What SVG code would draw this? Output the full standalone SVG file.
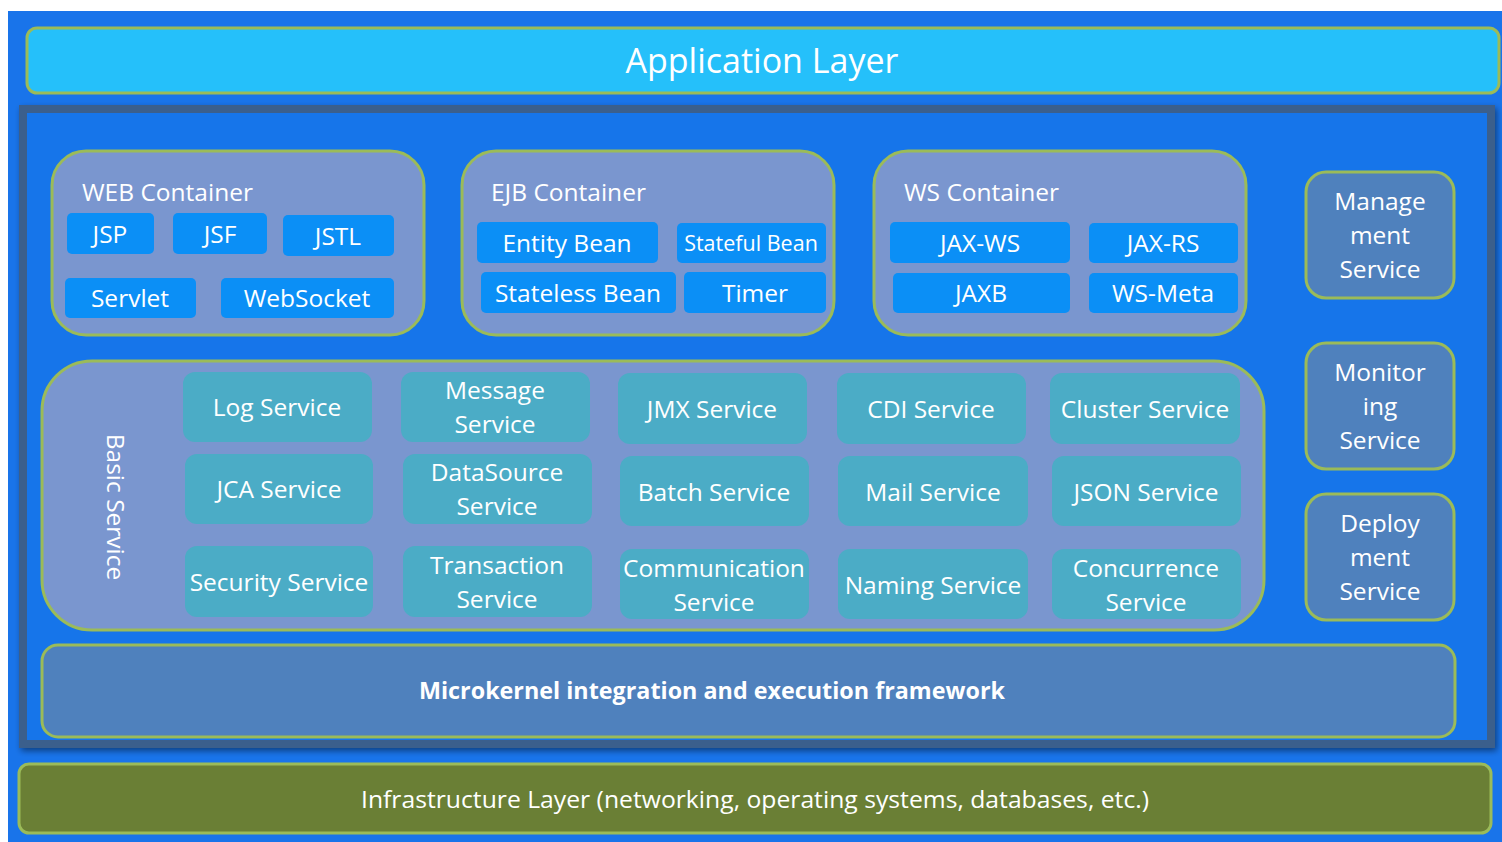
<svg xmlns="http://www.w3.org/2000/svg" width="1502" height="842" viewBox="0 0 1502 842">
<defs>
<filter id="sh" x="-5%" y="-5%" width="110%" height="110%">
<feGaussianBlur in="SourceAlpha" stdDeviation="3"/>
<feOffset dx="2" dy="3" result="b"/>
<feComponentTransfer><feFuncA type="linear" slope="0.45"/></feComponentTransfer>
<feMerge><feMergeNode/><feMergeNode in="SourceGraphic"/></feMerge>
</filter>
<style>
text{font-family:"Open Sans","Noto Sans","DejaVu Sans",sans-serif;fill:#fff;text-anchor:middle}
.box{stroke:#9BBB59;stroke-width:3}
.cont{fill:#7A96CF;stroke:#9BBB59;stroke-width:3}
.item{fill:#0B8FF6}
.svc{fill:#4BACC6}
.side{fill:#4F81BD;stroke:#9BBB59;stroke-width:3}
.t22{font-size:24.5px}
.t23{font-size:24.5px}
.lbl{font-size:24.5px;text-anchor:start}
</style>
</defs>
<rect x="0" y="0" width="1502" height="842" fill="#ffffff"/>
<rect x="8" y="11" width="1494" height="831" fill="#1974EA"/>

<g id="application-layer">
<rect class="box" x="27" y="28" width="1472" height="65" rx="10" fill="#25C0FA"/>
<text x="762" y="73" font-size="34">Application Layer</text>
</g>

<g id="main-frame">
<rect x="23" y="109" width="1468" height="635" fill="#1974EA" stroke="#3B5F8C" stroke-width="8" filter="url(#sh)"/>
</g>

<g id="web-container">
<rect class="cont" x="52" y="151" width="372" height="184" rx="34"/>
<text class="lbl" x="82" y="201">WEB Container</text>
<rect class="item" x="67" y="213" width="87" height="41" rx="5"/>
<text class="t23" x="110" y="243">JSP</text>
<rect class="item" x="173" y="213" width="94" height="41" rx="5"/>
<text class="t23" x="220" y="243">JSF</text>
<rect class="item" x="283" y="215" width="111" height="41" rx="5"/>
<text class="t23" x="338" y="245">JSTL</text>
<rect class="item" x="65" y="278" width="131" height="40" rx="5"/>
<text class="t23" x="130" y="307">Servlet</text>
<rect class="item" x="221" y="278" width="173" height="40" rx="5"/>
<text class="t23" x="307" y="307">WebSocket</text>
</g>

<g id="ejb-container">
<rect class="cont" x="462" y="151" width="372" height="184" rx="34"/>
<text class="lbl" x="491" y="201">EJB Container</text>
<rect class="item" x="477" y="222" width="181" height="41" rx="5"/>
<text class="t23" x="567" y="252">Entity Bean</text>
<rect class="item" x="677" y="223" width="149" height="40" rx="5"/>
<text x="751" y="251" font-size="21.5">Stateful Bean</text>
<rect class="item" x="481" y="272" width="195" height="41" rx="5"/>
<text class="t23" x="578" y="302">Stateless Bean</text>
<rect class="item" x="684" y="272" width="142" height="41" rx="5"/>
<text class="t23" x="755" y="302">Timer</text>
</g>

<g id="ws-container">
<rect class="cont" x="874" y="151" width="372" height="184" rx="34"/>
<text class="lbl" x="904" y="201">WS Container</text>
<rect class="item" x="890" y="222" width="180" height="41" rx="5"/>
<text class="t23" x="980" y="252">JAX-WS</text>
<rect class="item" x="1089" y="223" width="149" height="40" rx="5"/>
<text class="t23" x="1163" y="252">JAX-RS</text>
<rect class="item" x="893" y="273" width="177" height="40" rx="5"/>
<text class="t23" x="981" y="302">JAXB</text>
<rect class="item" x="1089" y="273" width="149" height="40" rx="5"/>
<text class="t23" x="1163" y="302">WS-Meta</text>
</g>

<g id="management-service">
<rect class="side" x="1306" y="172" width="148" height="126" rx="20"/>
<text class="t23" x="1380" y="210">Manage</text>
<text class="t23" x="1380" y="244">ment</text>
<text class="t23" x="1380" y="278">Service</text>
</g>
<g id="monitoring-service">
<rect class="side" x="1306" y="343" width="148" height="126" rx="20"/>
<text class="t23" x="1380" y="381">Monitor</text>
<text class="t23" x="1380" y="415">ing</text>
<text class="t23" x="1380" y="449">Service</text>
</g>
<g id="deployment-service">
<rect class="side" x="1306" y="494" width="148" height="126" rx="20"/>
<text class="t23" x="1380" y="532">Deploy</text>
<text class="t23" x="1380" y="566">ment</text>
<text class="t23" x="1380" y="600">Service</text>
</g>

<g id="basic-service">
<rect class="cont" x="42" y="361" width="1222" height="269" rx="50"/>
<text class="t22" transform="translate(107,507) rotate(90)">Basic Service</text>
</g>

<g id="services">
<rect class="svc" x="183" y="372" width="189" height="70" rx="12"/>
<text class="t23" x="277" y="416">Log Service</text>
<rect class="svc" x="401" y="372" width="189" height="70" rx="12"/>
<text class="t23" x="495" y="399">Message</text>
<text class="t23" x="495" y="433">Service</text>
<rect class="svc" x="618" y="373" width="189" height="71" rx="12"/>
<text class="t23" x="712" y="418">JMX Service</text>
<rect class="svc" x="837" y="373" width="189" height="71" rx="12"/>
<text class="t23" x="931" y="418">CDI Service</text>
<rect class="svc" x="1050" y="373" width="190" height="71" rx="12"/>
<text class="t23" x="1145" y="418">Cluster Service</text>

<rect class="svc" x="185" y="454" width="188" height="70" rx="12"/>
<text class="t23" x="279" y="498">JCA Service</text>
<rect class="svc" x="403" y="454" width="189" height="70" rx="12"/>
<text class="t23" x="497" y="481">DataSource</text>
<text class="t23" x="497" y="515">Service</text>
<rect class="svc" x="620" y="456" width="189" height="70" rx="12"/>
<text class="t23" x="714" y="501">Batch Service</text>
<rect class="svc" x="838" y="456" width="190" height="70" rx="12"/>
<text class="t23" x="933" y="501">Mail Service</text>
<rect class="svc" x="1052" y="456" width="189" height="70" rx="12"/>
<text class="t23" x="1146" y="501">JSON Service</text>

<rect class="svc" x="185" y="546" width="188" height="71" rx="12"/>
<text class="t23" x="279" y="591">Security Service</text>
<rect class="svc" x="403" y="546" width="189" height="71" rx="12"/>
<text class="t23" x="497" y="574">Transaction</text>
<text class="t23" x="497" y="608">Service</text>
<rect class="svc" x="620" y="549" width="189" height="70" rx="12"/>
<text class="t23" x="714" y="577">Communication</text>
<text class="t23" x="714" y="611">Service</text>
<rect class="svc" x="838" y="549" width="190" height="70" rx="12"/>
<text class="t23" x="933" y="594">Naming Service</text>
<rect class="svc" x="1052" y="549" width="189" height="70" rx="12"/>
<text class="t23" x="1146" y="577">Concurrence</text>
<text class="t23" x="1146" y="611">Service</text>
</g>

<g id="microkernel">
<rect class="side" x="42" y="645" width="1413" height="92" rx="16"/>
<text x="712" y="699" font-size="23" font-weight="bold" textLength="586" lengthAdjust="spacingAndGlyphs">Microkernel integration and execution framework</text>
</g>

<g id="infrastructure-layer">
<rect class="box" x="19" y="764" width="1472" height="69" rx="10" fill="#6A7F35"/>
<text x="755" y="808" font-size="24" textLength="788" lengthAdjust="spacingAndGlyphs">Infrastructure Layer (networking, operating systems, databases, etc.)</text>
</g>

<g id="connectors"></g>
</svg>
